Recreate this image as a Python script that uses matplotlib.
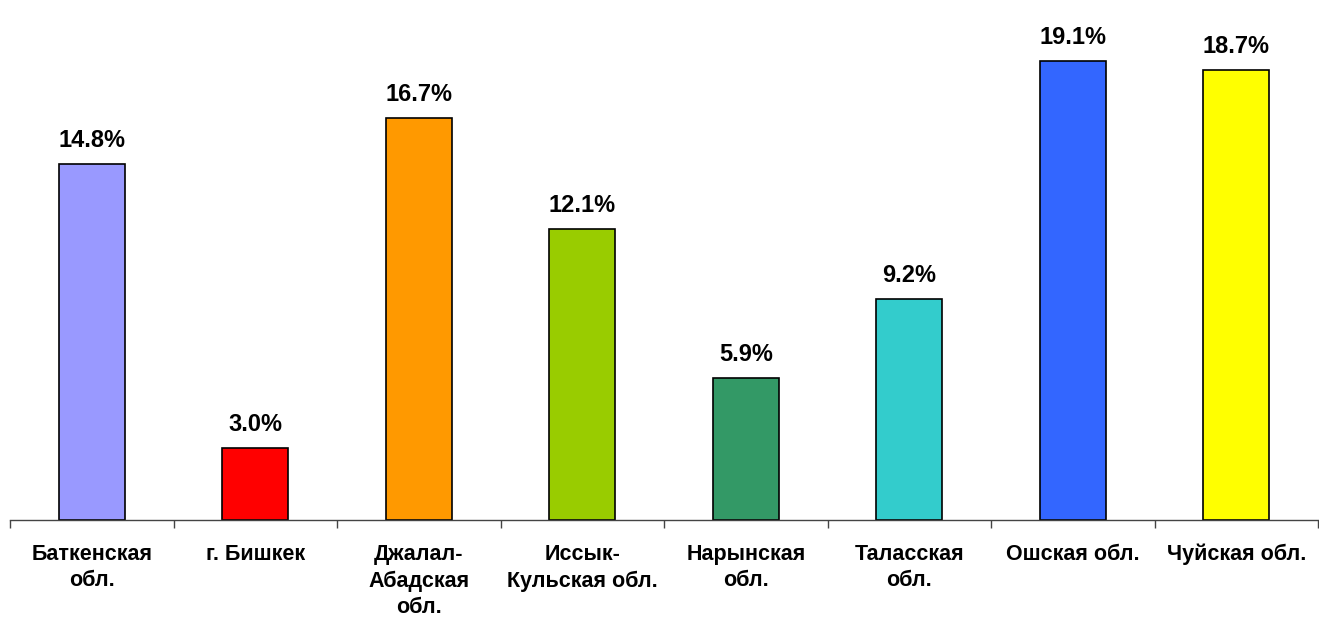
import matplotlib.pyplot as plt
import numpy as np

plt.rcParams['font.family'] = ['Liberation Sans', 'DejaVu Sans']

# data
regions = ["Баткенская\nобл.", "г. Бишкек", "Джалал-\nАбадская\nобл.", "Иссык-\nКульская обл.",
           "Нарынская\nобл.", "Таласская\nобл.", "Ошская обл.", "Чуйская обл."]
values = [14.8, 3.0, 16.7, 12.1, 5.9, 9.2, 19.1, 18.7]
colors = ["#9999FF", "#FF0000", "#FF9900", "#99CC00", "#339966", "#33CCCC", "#3366FF", "#FFFF00"]

fig = plt.figure(figsize=(13.19, 6.18), dpi=100)
ax = fig.add_axes([10 / 1319, 98 / 618, 1308 / 1319, 520 / 618])

x = np.arange(len(values))
ax.bar(x, values, width=0.405, color=colors, edgecolor='black', linewidth=1.2, zorder=2)

for xi, v in zip(x, values):
    ax.annotate(f"{v:.1f}%", (xi, v), xytext=(0, 12), textcoords='offset pixels',
                ha='center', va='bottom', fontsize=17, fontweight='bold')

ax.set_xlim(-0.5, len(values) - 0.5)
ax.set_ylim(0, 21.62)
ax.set_xticks(x)
ax.set_xticklabels(regions, fontsize=15.5, fontweight='bold', linespacing=1.36)
ax.set_xticks(np.arange(-0.5, len(values), 1), minor=True)
ax.tick_params(axis='x', which='major', length=0, pad=17)
ax.tick_params(axis='x', which='minor', length=6, width=1, color='#444444')
ax.set_yticks([])
for s in ['top', 'right', 'left']:
    ax.spines[s].set_visible(False)
ax.spines['bottom'].set_color('#444444')
ax.spines['bottom'].set_linewidth(1)

fig.savefig("out.png", dpi=100)
